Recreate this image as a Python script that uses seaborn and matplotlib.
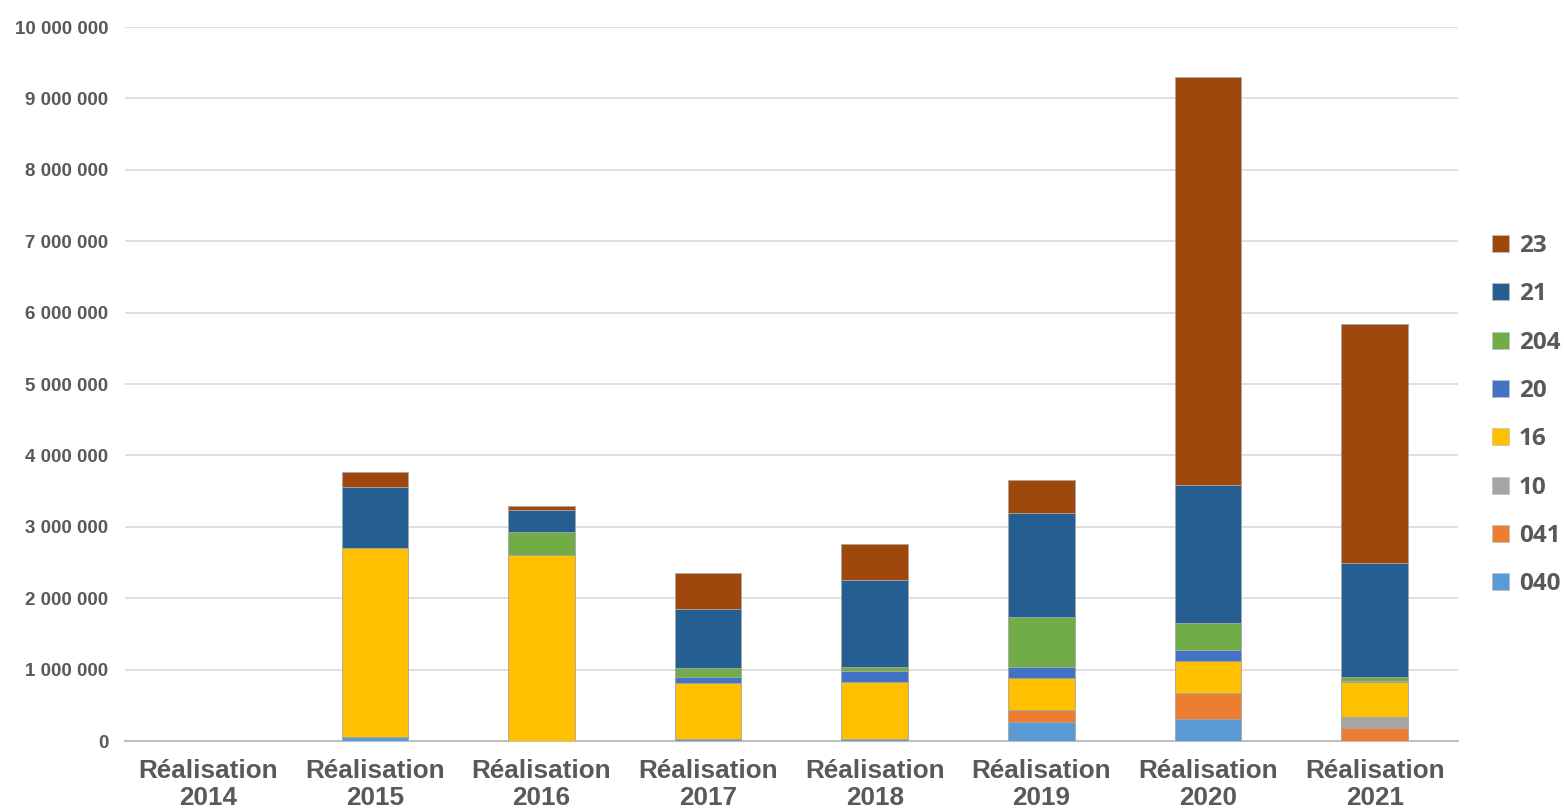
import numpy as np
import pandas as pd
import matplotlib.pyplot as plt
from matplotlib.patches import Patch
import seaborn as sns

years = ['2014', '2015', '2016', '2017', '2018', '2019', '2020', '2021']
labels = ['Réalisation\n' + y for y in years]

# stacked from bottom to top
series = ['040', '041', '10', '16', '20', '204', '21', '23']
s040 = [0, 50000, 0, 30000, 30000, 260000, 310000, 0]
s041 = [0, 0, 0, 0, 0, 170000, 360000, 180000]
s10 = [0, 0, 0, 0, 0, 0, 0, 150000]
s16 = [0, 2650000, 2610000, 780000, 800000, 450000, 450000, 490000]
s20 = [0, 0, 0, 80000, 150000, 160000, 160000, 20000]
s204 = [0, 0, 320000, 130000, 50000, 700000, 370000, 50000]
s21 = [0, 860000, 310000, 830000, 1230000, 1450000, 1940000, 1610000]
s23 = [0, 210000, 50000, 500000, 500000, 460000, 5710000, 3340000]
values = [s040, s041, s10, s16, s20, s204, s21, s23]
colors = ['#5B9BD5', '#ED7D31', '#A5A5A5', '#FFC000', '#4472C4', '#70AD47', '#255E91', '#9E480E']

sns.set_style('white')
plt.rcParams['font.family'] = ['Liberation Sans', 'DejaVu Sans']

fig = plt.figure(figsize=(15.64, 8.11), dpi=100)
ax = fig.add_axes([0.0799, 0.0863, 0.8523, 0.8804])

bottom = np.zeros(len(years))
for name, vals, col in zip(series, values, colors):
    df = pd.DataFrame({'annee': labels, 'montant': vals})
    sns.barplot(data=df, x='annee', y='montant', color=col, width=0.4,
                bottom=bottom, edgecolor='#A6A6A6', linewidth=0.6,
                saturation=1, ax=ax, zorder=3)
    bottom = bottom + np.array(vals)

ax.set_xlim(-0.5, 7.5)
ax.set_ylim(0, 10000000)
ticks = np.arange(0, 10000001, 1000000)
ax.set_yticks(ticks)
ax.set_yticklabels([f'{t:,.0f}'.replace(',', ' ') for t in ticks],
                   fontsize=13.5, fontweight='bold', color='#595959')
ax.set_xticks(range(len(labels)))
ax.set_xticklabels(labels, fontsize=18.8, fontweight='bold', color='#595959',
                   linespacing=1.15)
ax.tick_params(axis='y', length=0, pad=12)
ax.tick_params(axis='x', length=0, pad=13)
ax.set_xlabel('')
ax.set_ylabel('')
ax.grid(axis='y', color='#D9D9D9', linewidth=1.2, zorder=0)
ax.grid(axis='x', visible=False)
for side in ['top', 'right', 'left']:
    ax.spines[side].set_visible(False)
ax.spines['bottom'].set_color('#BFBFBF')
ax.spines['bottom'].set_linewidth(1.5)

handles = [Patch(facecolor=c, edgecolor='#BFBFBF', linewidth=0.5) for c in colors][::-1]
leg = fig.legend(handles, series[::-1], loc='center left',
                 bbox_to_anchor=(0.954, 0.488), frameon=False,
                 handlelength=0.7, handleheight=0.7, handletextpad=0.4,
                 labelspacing=1.0, borderpad=0, borderaxespad=0,
                 prop={'family': 'Open Sans', 'weight': 'bold', 'size': 17.5})
for t in leg.get_texts():
    t.set_color('#595959')

fig.savefig('out.png', dpi=100)
